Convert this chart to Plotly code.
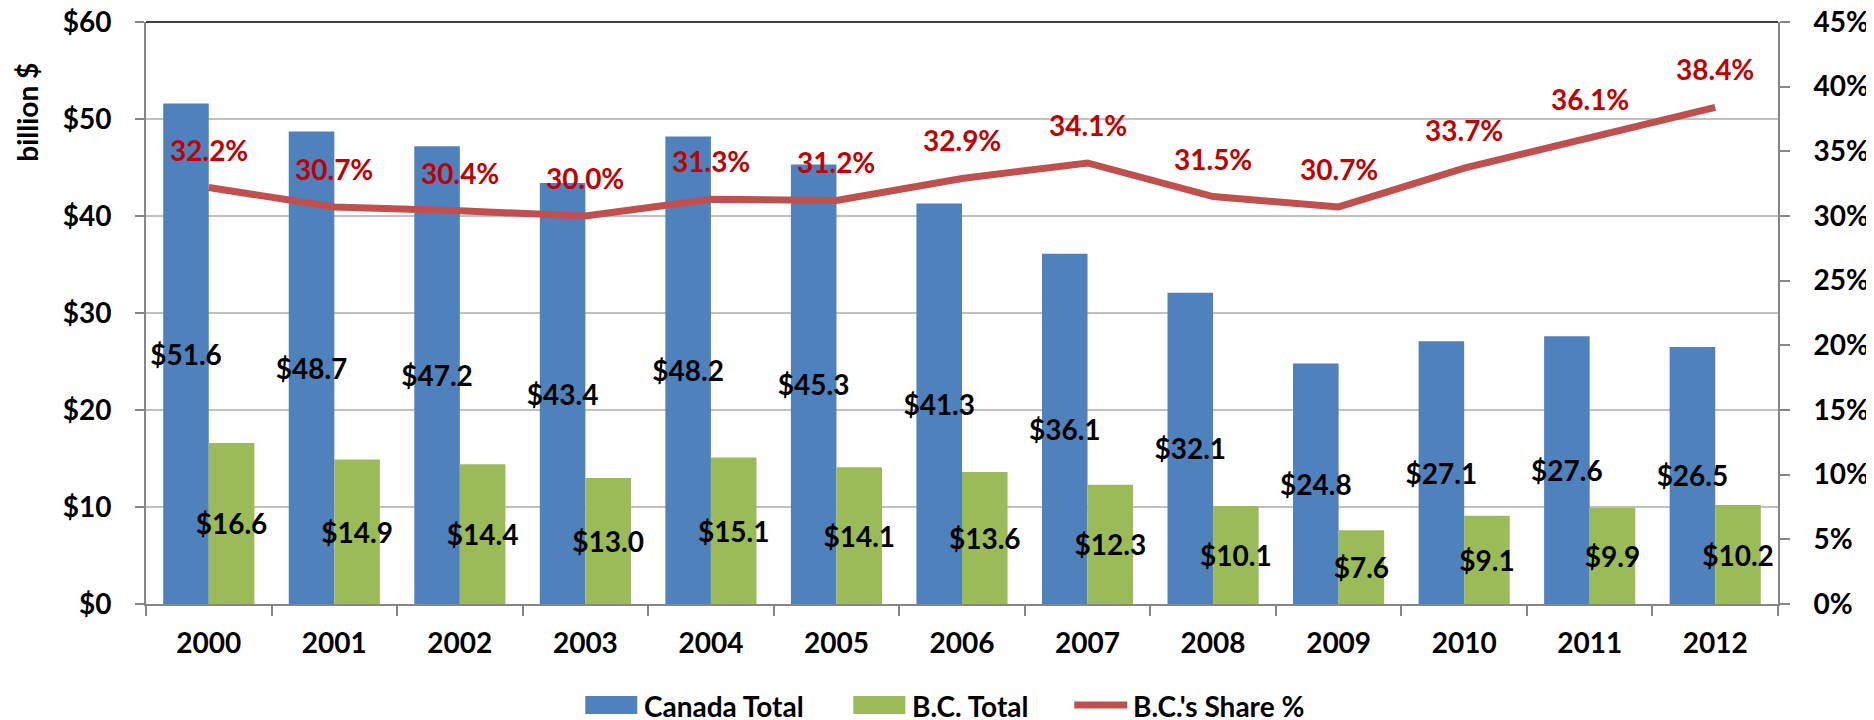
import plotly.graph_objects as go

years = ["2000", "2001", "2002", "2003", "2004", "2005", "2006",
         "2007", "2008", "2009", "2010", "2011", "2012"]
canada_total = [51.6, 48.7, 47.2, 43.4, 48.2, 45.3, 41.3, 36.1, 32.1, 24.8, 27.1, 27.6, 26.5]
bc_total = [16.6, 14.9, 14.4, 13.0, 15.1, 14.1, 13.6, 12.3, 10.1, 7.6, 9.1, 9.9, 10.2]
bc_share = [32.2, 30.7, 30.4, 30.0, 31.3, 31.2, 32.9, 34.1, 31.5, 30.7, 33.7, 36.1, 38.4]
series_names = ["Canada Total", "B.C. Total", "B.C.'s Share %"]

FONT = "Lato, 'Open Sans', sans-serif"
BLUE = "#4F81BD"
GREEN = "#9BBB59"
RED_LINE = "#C0504D"
RED_TEXT = "#C00000"

# page body has an 8px margin: figure sized to fit the 1874x720 window
OFF = 8
W, H = 1874 - OFF, 720 - OFF
# plot area in screen pixels
PL, PR, PT, PB = 145.7, 1777.7, 21.5, 604.0
ML = PL - OFF
MT = PT - OFF
MR = W - (PR - OFF)
MB = H - (PB - OFF)
PW, PH = PR - PL, PB - PT


def px_x(px):
    return (px - PL) / PW


def px_y(py):
    return (PB - py) / PH


bold28 = dict(family=FONT, size=28, color="black", weight="bold")

fig = go.Figure()

fig.add_trace(go.Bar(
    x=years, y=canada_total, name=series_names[0],
    marker=dict(color=BLUE, line=dict(width=0)),
    texttemplate="$%{y:.1f}", textposition="inside", insidetextanchor="middle",
    textangle=0, constraintext="none",
    textfont=bold28, insidetextfont=bold28,
    yaxis="y", showlegend=False,
))
fig.add_trace(go.Bar(
    x=years, y=bc_total, name=series_names[1],
    marker=dict(color=GREEN, line=dict(width=0)),
    texttemplate="$%{y:.1f}", textposition="inside", insidetextanchor="middle",
    textangle=0, constraintext="none",
    textfont=bold28, insidetextfont=bold28,
    yaxis="y", showlegend=False,
))
fig.add_trace(go.Scatter(
    x=years, y=bc_share, name=series_names[2], mode="lines",
    line=dict(color=RED_LINE, width=7),
    yaxis="y2", showlegend=False,
))

for i, v in enumerate(bc_share):
    fig.add_annotation(
        x=i, y=v, yref="y2", xref="x", text=f"{v:.1f}%", showarrow=False,
        yshift=38, font=dict(family=FONT, size=28, color=RED_TEXT, weight="bold"),
    )

# y-axis title
fig.add_annotation(
    x=px_x(27), y=px_y(112), xref="paper", yref="paper", text="billion $",
    textangle=-90, showarrow=False, xanchor="center", yanchor="middle",
    font=bold28,
)

# top border of the plot area
fig.add_shape(type="line", xref="paper", yref="paper", x0=0, x1=1, y0=1, y1=1,
              line=dict(color="black", width=1.5))

# custom legend (Excel style keys)
leg_y = 705
fig.add_shape(type="rect", xref="paper", yref="paper",
              x0=px_x(585), x1=px_x(637), y0=px_y(leg_y + 9), y1=px_y(leg_y - 9),
              fillcolor=BLUE, line=dict(width=0))
fig.add_shape(type="rect", xref="paper", yref="paper",
              x0=px_x(853), x1=px_x(905), y0=px_y(leg_y + 9), y1=px_y(leg_y - 9),
              fillcolor=GREEN, line=dict(width=0))
fig.add_shape(type="line", xref="paper", yref="paper",
              x0=px_x(1074), x1=px_x(1127), y0=px_y(leg_y), y1=px_y(leg_y),
              line=dict(color=RED_LINE, width=7))
for name, lx in zip(series_names, [642, 910, 1131]):
    fig.add_annotation(
        x=px_x(lx), y=px_y(leg_y + 1), xref="paper", yref="paper", text=name,
        showarrow=False, xanchor="left", yanchor="middle", font=bold28,
    )

fig.update_layout(
    width=W, height=H,
    margin=dict(l=ML, r=MR, t=MT, b=MB, autoexpand=False),
    paper_bgcolor="white", plot_bgcolor="white",
    barmode="group", bargap=0.274, bargroupgap=0,
    font=bold28,
    showlegend=False,
    xaxis=dict(
        type="category", range=[-0.5, len(years) - 0.5], automargin=False,
        showline=True, linecolor="#868686", linewidth=2,
        ticks="outside", ticklen=10, tickcolor="#868686", tickwidth=2,
        tickson="boundaries", showgrid=False, tickangle=0,
        tickfont=bold28, ticklabelstandoff=13, ticklabeloverflow="allow",
    ),
    yaxis=dict(
        range=[0, 60], dtick=10, tickprefix="$", automargin=False,
        showline=True, linecolor="#868686", linewidth=2,
        ticks="outside", ticklen=9, tickcolor="#868686", tickwidth=2,
        showgrid=True, gridcolor="#C0C0C0", gridwidth=1.5, zeroline=False,
        tickfont=bold28, ticklabelstandoff=18, ticklabeloverflow="allow",
    ),
    yaxis2=dict(
        range=[0, 45], dtick=5, ticksuffix="%", overlaying="y", side="right",
        automargin=False,
        showline=True, linecolor="#868686", linewidth=2,
        ticks="outside", ticklen=10, tickcolor="#868686", tickwidth=2,
        showgrid=False, zeroline=False,
        tickfont=bold28, ticklabelstandoff=18, ticklabeloverflow="allow",
    ),
)

fig.write_html("out.html")
